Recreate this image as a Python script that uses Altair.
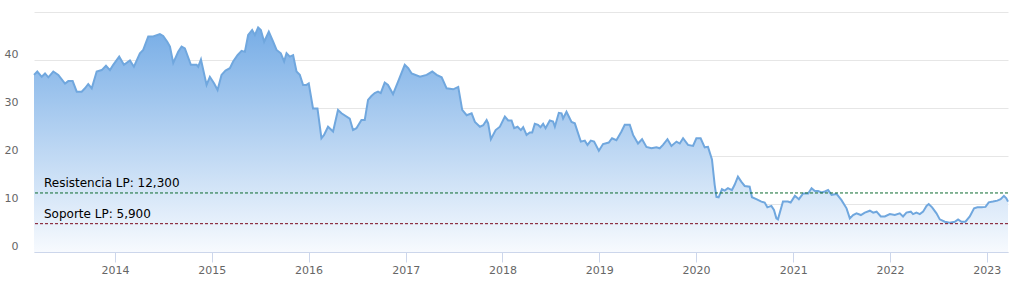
import altair as alt
import pandas as pd

years = [
    2013.164, 2013.198, 2013.244, 2013.278, 2013.312, 2013.363, 2013.415, 2013.484, 2013.518, 2013.563,
    2013.605, 2013.656, 2013.690, 2013.724, 2013.760, 2013.811, 2013.863, 2013.907, 2013.948, 2013.982,
    2014.044, 2014.093, 2014.155, 2014.196, 2014.258, 2014.292, 2014.344, 2014.395, 2014.464, 2014.498,
    2014.540, 2014.568, 2014.602, 2014.653, 2014.688, 2014.722, 2014.784, 2014.843, 2014.860, 2014.888,
    2014.946, 2014.980, 2015.025, 2015.060, 2015.101, 2015.142, 2015.187, 2015.221, 2015.266, 2015.308,
    2015.342, 2015.376, 2015.417, 2015.445, 2015.479, 2015.507, 2015.541, 2015.589, 2015.634, 2015.669,
    2015.713, 2015.747, 2015.772, 2015.806, 2015.840, 2015.875, 2015.909, 2015.943, 2015.978, 2016.002,
    2016.046, 2016.092, 2016.133, 2016.160, 2016.201, 2016.253, 2016.304, 2016.340, 2016.425, 2016.459,
    2016.494, 2016.546, 2016.580, 2016.614, 2016.649, 2016.683, 2016.717, 2016.745, 2016.786, 2016.820,
    2016.872, 2016.924, 2016.993, 2017.027, 2017.062, 2017.148, 2017.217, 2017.275, 2017.320, 2017.372,
    2017.423, 2017.491, 2017.543, 2017.584, 2017.630, 2017.681, 2017.715, 2017.767, 2017.801, 2017.836,
    2017.852, 2017.880, 2017.929, 2017.973, 2018.025, 2018.059, 2018.094, 2018.121, 2018.156, 2018.190,
    2018.214, 2018.249, 2018.283, 2018.307, 2018.334, 2018.368, 2018.393, 2018.420, 2018.445, 2018.489,
    2018.523, 2018.541, 2018.582, 2018.610, 2018.626, 2018.661, 2018.713, 2018.747, 2018.809, 2018.850,
    2018.878, 2018.912, 2018.946, 2018.995, 2019.039, 2019.098, 2019.132, 2019.177, 2019.229, 2019.263,
    2019.315, 2019.349, 2019.400, 2019.442, 2019.487, 2019.539, 2019.590, 2019.624, 2019.658, 2019.704,
    2019.745, 2019.797, 2019.831, 2019.865, 2019.916, 2019.968, 2020.003, 2020.047, 2020.089, 2020.123,
    2020.164, 2020.192, 2020.210, 2020.233, 2020.267, 2020.295, 2020.329, 2020.370, 2020.398, 2020.432,
    2020.468, 2020.502, 2020.553, 2020.577, 2020.622, 2020.674, 2020.708, 2020.736, 2020.777, 2020.804,
    2020.829, 2020.845, 2020.897, 2020.948, 2020.976, 2021.018, 2021.059, 2021.103, 2021.155, 2021.190,
    2021.224, 2021.258, 2021.293, 2021.327, 2021.361, 2021.396, 2021.448, 2021.499, 2021.551, 2021.585,
    2021.619, 2021.654, 2021.699, 2021.740, 2021.792, 2021.826, 2021.861, 2021.905, 2021.946, 2021.998,
    2022.050, 2022.101, 2022.135, 2022.170, 2022.215, 2022.238, 2022.273, 2022.308, 2022.342, 2022.377,
    2022.400, 2022.435, 2022.480, 2022.514, 2022.566, 2022.617, 2022.669, 2022.703, 2022.738, 2022.779,
    2022.824, 2022.868, 2022.903, 2022.944, 2022.986, 2023.020, 2023.064, 2023.109, 2023.143, 2023.177,
    2023.202, 2023.219,
]
prices = [
    36.9, 37.6, 36.5, 37.2, 36.4, 37.6, 36.9, 35.1, 35.6, 35.6,
    33.4, 33.4, 34.1, 35.0, 34.1, 37.6, 37.9, 38.8, 37.9, 39.0,
    40.7, 39.0, 39.9, 38.6, 41.4, 42.1, 44.9, 44.9, 45.4, 45.0,
    43.8, 42.8, 39.4, 41.7, 42.8, 42.4, 39.0, 39.0, 38.6, 40.1,
    34.8, 36.5, 35.1, 33.75, 36.9, 37.8, 38.3, 39.7, 41.0, 41.9,
    41.7, 45.2, 46.25, 45.2, 46.8, 46.25, 43.8, 45.9, 43.8, 42.1,
    41.4, 39.7, 41.4, 40.7, 41.0, 37.6, 36.9, 34.8, 34.8, 35.1,
    29.9, 29.9, 23.7, 24.4, 26.1, 25.1, 29.6, 28.9, 27.8, 25.4,
    25.8, 27.5, 27.5, 31.7, 32.5, 33.1, 33.4, 33.1, 35.3, 34.8,
    32.9, 35.5, 39.0, 38.3, 37.2, 36.5, 36.9, 37.6, 36.9, 36.4,
    34.1, 33.9, 34.4, 29.6, 28.5, 28.9, 27.1, 26.1, 26.4, 27.5,
    26.8, 23.5, 25.4, 26.1, 28.2, 27.4, 27.4, 25.8, 26.1, 25.4,
    26.0, 24.4, 24.9, 24.9, 26.7, 26.5, 26.0, 26.7, 25.8, 27.4,
    27.2, 26.1, 29.0, 28.9, 27.8, 29.2, 27.1, 26.8, 23.0, 23.2,
    22.3, 23.2, 23.0, 21.1, 22.5, 22.8, 23.7, 23.3, 25.1, 26.5,
    26.5, 24.4, 22.6, 23.5, 21.9, 21.6, 21.8, 21.6, 22.3, 23.5,
    22.1, 23.0, 22.6, 23.7, 22.3, 22.1, 23.7, 23.7, 21.8, 21.9,
    19.3, 14.0, 11.5, 11.4, 13.1, 12.8, 13.3, 12.9, 14.0, 15.7,
    14.6, 13.75, 13.6, 11.4, 11.0, 10.5, 10.3, 9.3, 9.6, 8.75,
    7.0, 6.8, 10.5, 10.5, 10.3, 11.7, 11.0, 12.2, 12.2, 13.3,
    12.7, 12.7, 12.4, 12.6, 12.9, 11.9, 12.1, 10.8, 9.1, 7.0,
    7.7, 8.05, 7.7, 8.2, 8.6, 8.2, 8.4, 7.4, 7.4, 7.9,
    7.7, 8.05, 7.4, 8.2, 8.4, 7.9, 8.2, 7.9, 8.4, 9.6,
    10.0, 9.3, 8.05, 6.8, 6.3, 6.1, 6.3, 6.8, 6.3, 6.3,
    7.4, 9.1, 9.3, 9.3, 9.4, 10.35, 10.5, 10.7, 11.0, 11.7,
    11.2, 10.5,
]

level_names = ["Resistencia", "Soporte"]
level_values = [12.3, 5.9]
level_labels = ["Resistencia LP: 12,300", "Soporte LP: 5,900"]
level_colors = ["#0b6b2e", "#7a0a1e"]

tick_years = list(range(2014, 2024))
y_ticks = [0, 10, 20, 30, 40, 50]


def to_date(t):
    y = int(t)
    return pd.Timestamp(year=y, month=1, day=1) + pd.Timedelta(days=(t - y) * 365.25)


df = pd.DataFrame({"date": [to_date(t) for t in years], "price": prices})
levels = pd.DataFrame({"name": level_names, "value": level_values, "label": level_labels})

FONT = "DejaVu Sans"

x_enc = alt.X(
    "date:T",
    title=None,
    scale=alt.Scale(nice=False, padding=0),
    axis=alt.Axis(
        values=[alt.DateTime(year=y, month=1, date=1) for y in tick_years],
        format="%Y",
        grid=False,
        domainColor="#ccd6eb",
        tickColor="#ccd6eb",
        tickSize=10,
        labelPadding=2,
        labelColor="#666666",
        labelFont=FONT,
        labelFontSize=11,
    ),
)
y_enc = alt.Y(
    "price:Q",
    title=None,
    scale=alt.Scale(domain=[0, 50], nice=False),
    axis=alt.Axis(
        values=y_ticks,
        labelExpr="datum.value == 50 ? '' : datum.label",
        domain=False,
        ticks=False,
        grid=True,
        gridColor="#e6e6e6",
        labelPadding=16,
        labelOffset=-6,
        labelColor="#666666",
        labelFont=FONT,
        labelFontSize=11,
    ),
)

area = alt.Chart(df).mark_area(
    color=alt.Gradient(
        gradient="linear",
        stops=[
            alt.GradientStop(color="#77ade6", offset=0),
            alt.GradientStop(color="#f7fafe", offset=1),
        ],
        x1=1, x2=1, y1=0, y2=1,
    )
).encode(x=x_enc, y=y_enc)

line = alt.Chart(df).mark_line(color="#70a7de", strokeWidth=2).encode(
    x=alt.X("date:T"), y=alt.Y("price:Q")
)

color_scale = alt.Scale(domain=level_names, range=level_colors)

rules = alt.Chart(levels).mark_rule(strokeDash=[3, 2], strokeWidth=1).encode(
    y=alt.Y("value:Q"),
    color=alt.Color("name:N", scale=color_scale, legend=None),
)

texts = alt.Chart(levels).mark_text(
    align="left", baseline="bottom", dy=-3, font=FONT, fontSize=12, color="#000000"
).encode(
    x=alt.value(10),
    y=alt.Y("value:Q"),
    text="label:N",
)

chart = alt.layer(area, line, rules, texts).properties(
    width=974,
    height=240,
    autosize=alt.AutoSizeParams(type="none"),
    padding={"left": 34, "top": 12, "right": 14, "bottom": 35},
    background="white",
).configure_view(stroke=None)

chart.save("out.html", embed_options={"renderer": "svg", "actions": False})
